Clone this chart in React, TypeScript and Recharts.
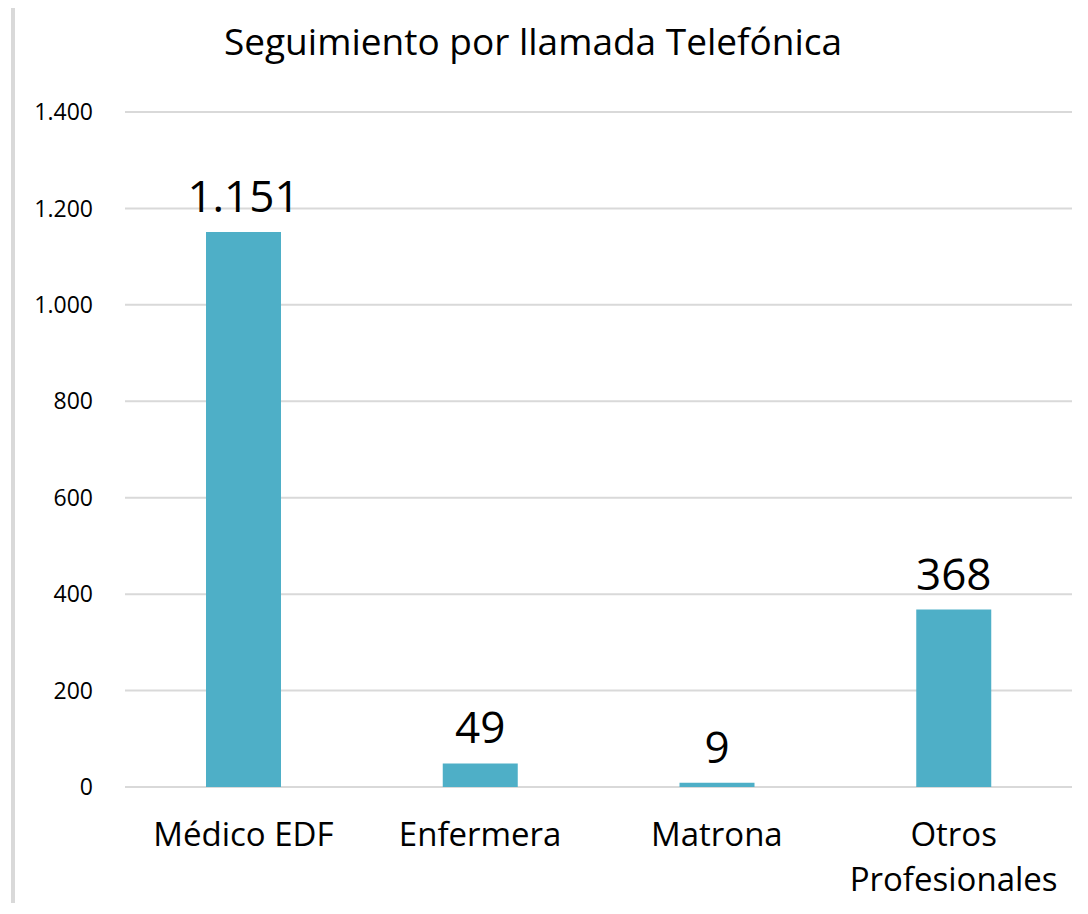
import { Bar, BarChart, CartesianGrid, LabelList, XAxis, YAxis } from "recharts";

const title = "Seguimiento por llamada Telefónica";
const categories = ["Médico EDF", "Enfermera", "Matrona", "Otros Profesionales"];
const llamadas = [1151, 49, 9, 368];
const yTicks = [0, 200, 400, 600, 800, 1000, 1200, 1400];

const data = categories.map((categoria, i) => ({ categoria, llamadas: llamadas[i] }));

const FONT = "'Open Sans', sans-serif";

// es-ES style thousands separator ("1.400")
const fmt = (v: number) => String(v).replace(/\B(?=(\d{3})+(?!\d))/g, ".");

function CategoryTick({ x, y, payload }: any) {
  const label: string = payload.value;
  // long names wrap onto two lines, like the original
  const lines = label.length > 12 ? label.split(" ") : [label];
  return (
    <text x={x} y={y + 59} textAnchor="middle" fill="#000" fontSize={33} fontFamily={FONT}>
      {lines.map((line, i) => (
        <tspan key={i} x={x} dy={i === 0 ? 0 : 45}>
          {line}
        </tspan>
      ))}
    </text>
  );
}

export default function App() {
  return (
    <div
      style={{
        position: "relative",
        marginTop: -4,
        marginLeft: 3,
        borderTop: "4px solid #d9d9d9",
        borderLeft: "4px solid #d9d9d9",
        width: 1065,
        height: 895,
        background: "#fff",
      }}
    >
      <div
        style={{
          position: "absolute",
          top: 14,
          left: 0,
          width: 1036,
          textAlign: "center",
          fontFamily: FONT,
          fontSize: 37,
          lineHeight: 1,
          color: "#000",
        }}
      >
        {title}
      </div>
      <BarChart width={1065} height={895} data={data} margin={{ top: 104, right: 8, left: 0, bottom: 0 }}>
        <CartesianGrid vertical={false} stroke="#d9d9d9" strokeWidth={2} />
        <XAxis
          dataKey="categoria"
          axisLine={false}
          tickLine={false}
          tickSize={0}
          tickMargin={0}
          height={116}
          interval={0}
          tick={<CategoryTick />}
        />
        <YAxis
          domain={[0, 1400]}
          ticks={yTicks}
          width={110}
          axisLine={false}
          tickLine={false}
          tickSize={0}
          tickMargin={32}
          tickFormatter={fmt}
          tick={{ fontSize: 23, fill: "#000", fontFamily: FONT }}
        />
        <Bar dataKey="llamadas" fill="#4eafc7" barSize={75} isAnimationActive={false}>
          <LabelList
            dataKey="llamadas"
            position="top"
            offset={20}
            formatter={(v: any) => fmt(Number(v))}
            style={{ fontSize: 44, fill: "#000", fontFamily: FONT }}
          />
        </Bar>
      </BarChart>
    </div>
  );
}
